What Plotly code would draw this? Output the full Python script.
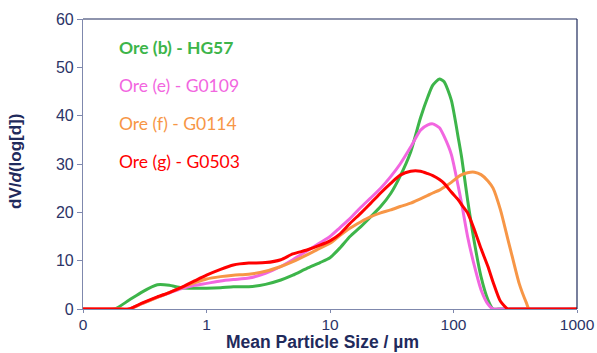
import plotly.graph_objects as go

# Particle size grid (µm) shared by all distributions
size_um = [0.1, 0.18, 0.235, 0.3, 0.4, 0.5, 0.62, 0.8, 1, 1.3, 1.65, 2.2, 3, 4, 5,
           6.5, 8.3, 10, 12, 14.5, 17.7, 21.4, 25.7, 31, 37, 45, 54, 62, 68, 77,
           84, 96, 110, 117, 130, 148, 167, 190, 209, 240, 275, 290, 340, 390,
           410, 1000]

ore_b = [0, 0, 1.8, 3.5, 5.0, 4.9, 4.4, 4.3, 4.3, 4.4, 4.6, 4.6, 5.1, 6.0, 7.0,
         8.4, 9.6, 10.6, 12.6, 15.0, 17.0, 19.1, 21.2, 23.9, 27.5, 32.5, 39.5, 43.9, 46.3, 47.6,
         47.0, 43.2, 35.0, 31.0, 22.6, 13.6, 6.7, 1.9, 0, 0, 0, 0, 0, 0,
         0, 0]

ore_e = [0, 0, 0, 1.1, 2.4, 3.3, 4.2, 4.9, 5.3, 5.8, 6.1, 6.4, 7.4, 8.8, 10.2,
         12.0, 13.7, 15.0, 16.8, 18.7, 21.0, 23.0, 25.0, 27.4, 30.0, 33.5, 37.0, 38.1, 38.3, 37.5,
         35.7, 32.0, 25.0, 21.5, 15.0, 8.8, 4.0, 1.0, 0, 0, 0, 0, 0, 0,
         0, 0]

ore_f = [0, 0, 0, 1.1, 2.4, 3.4, 4.4, 5.4, 6.2, 6.7, 7.0, 7.2, 7.8, 8.8, 9.8,
         11.2, 12.6, 13.6, 15.2, 16.7, 18.0, 19.1, 19.9, 20.5, 21.2, 21.9, 22.8, 23.5, 24.0, 24.6,
         25.2, 26.2, 27.4, 27.8, 28.2, 28.3, 27.8, 26.5, 25.0, 20.5, 14.5, 12.2, 5.3, 1.2,
         0, 0]

ore_g = [0, 0, 0, 1.2, 2.5, 3.4, 4.4, 5.8, 7.0, 8.2, 9.1, 9.5, 9.6, 10.2, 11.4,
         12.2, 13.2, 14.1, 15.5, 17.7, 19.8, 21.9, 24.0, 26.0, 27.7, 28.5, 28.5, 28.0, 27.6, 26.8,
         26.0, 24.2, 22.5, 21.5, 19.9, 16.3, 12.5, 8.8, 5.6, 1.6, 0, 0, 0, 0,
         0, 0]

series_names = ["Ore (b) - HG57", "Ore (e) - G0109", "Ore (f) - G0114", "Ore (g) - G0503"]
series_values = [ore_b, ore_e, ore_f, ore_g]
series_colors = ["#3db54a", "#f266e0", "#f79646", "#ff0000"]

x_tick_vals = [0.1, 1, 10, 100, 1000]
x_tick_text = ["0", "1", "10", "100", "1000"]
y_tick_vals = [0, 10, 20, 30, 40, 50, 60]

navy = "#1f2a5c"
tick_navy = "#2b3467"
axis_grey = "#7f88ad"

fig = go.Figure()
for name, vals, col in zip(series_names, series_values, series_colors):
    fig.add_trace(go.Scatter(
        x=size_um, y=vals, name=name, mode="lines",
        line=dict(color=col, width=3, shape="spline", smoothing=0.6),
        showlegend=False,
    ))

# Series labels stacked in the upper-left corner, coloured like their lines
label_y = [0.903, 0.772, 0.641, 0.507]
weights = ["bold", "normal", "normal", "normal"]
for name, col, yy, w in zip(series_names, series_colors, label_y, weights):
    fig.add_annotation(
        text=name, xref="paper", yref="paper", x=0.069, y=yy,
        xanchor="left", yanchor="middle", showarrow=False,
        font=dict(family="Lato", size=17.5, color=col, weight=w),
    )

# Axis titles
fig.add_annotation(
    text="Mean Particle Size / µm", xref="paper", yref="paper",
    x=(322 - 83) / 494, y=-44 / 290, xanchor="center", yanchor="bottom",
    showarrow=False, borderpad=0,
    font=dict(size=17.5, color=navy, weight="bold"),
)
fig.add_annotation(
    text="dV/<i>d</i>(log[d])", xref="paper", yref="paper",
    x=-0.138, y=0.51, xanchor="center", yanchor="middle", textangle=-90,
    showarrow=False, font=dict(size=17, color=navy, weight="bold"),
)

fig.update_layout(
    width=597, height=353,
    margin=dict(l=83, r=20, t=19, b=44),
    paper_bgcolor="white", plot_bgcolor="white",
    font=dict(family="Liberation Sans, Arial", color=navy),
    xaxis=dict(
        type="log", range=[-1, 3], automargin=False,
        tickvals=x_tick_vals, ticktext=x_tick_text,
        showgrid=False, zeroline=False,
        showline=True, linecolor=axis_grey, linewidth=1.2,
        ticks="outside", ticklen=3, tickcolor=axis_grey,
        ticklabelstandoff=-2,
        tickfont=dict(size=15.5, color=tick_navy),
    ),
    yaxis=dict(
        range=[0, 60], tickvals=y_tick_vals, automargin=False,
        showgrid=False, zeroline=False,
        showline=True, linecolor=axis_grey, linewidth=1.2,
        ticks="outside", ticklen=5, tickcolor=axis_grey,
        tickfont=dict(size=16, color=tick_navy),
    ),
)

# Darker frame along the top and right edges of the plot area
fig.add_shape(type="line", xref="paper", yref="paper", x0=0, x1=1, y0=1, y1=1,
              line=dict(color=navy, width=1.2))
fig.add_shape(type="line", xref="paper", yref="paper", x0=1, x1=1, y0=0, y1=1,
              line=dict(color=navy, width=1.2))

fig.write_html("out.html")
